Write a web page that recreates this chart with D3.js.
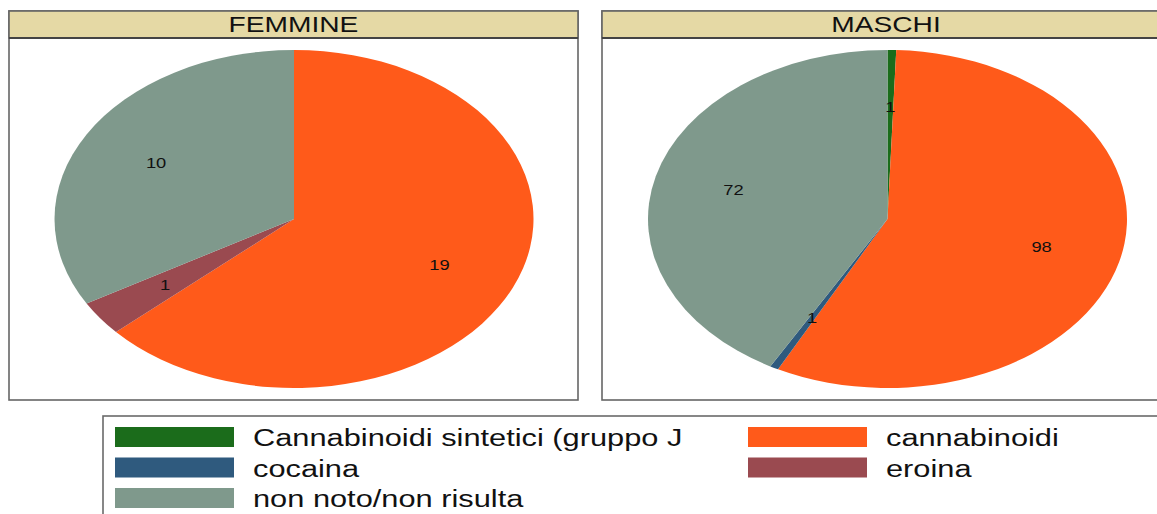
<body style="margin:0">
    <script src="https://d3js.org/d3.v7.min.js"></script>

    <style>
      * {
        font-family: "Liberation Sans", Arial, sans-serif;
      }
    </style>

    <script>
        // data
        var categories = ["Cannabinoidi sintetici (gruppo J", "cannabinoidi", "cocaina", "eroina", "non noto/non risulta"];
        var colors = ["#1b6c1b", "#ff5a1a", "#2f5a7e", "#9a4a50", "#7f998c"];
        var panels = ["FEMMINE", "MASCHI"];
        var femmine = [0, 19, 0, 1, 10];
        var maschi = [1, 98, 1, 0, 72];
        var seriesValues = [femmine, maschi];

        var width = 1157,
            height = 514,
            sx = 1.31; // the picture is stretched sideways

        var svg = d3.select("body").append("svg")
            .attr("width", width)
            .attr("height", height)
            .style("display", "block");

        // panel boxes
        var panelBox = [
            {x0: 9, x1: 578, cx: 294},
            {x0: 602, x1: 1170, cx: 887.5}
        ];
        var topY = 11, headH = 27, bottomY = 400;

        var ry = 169, rx = 239.5, cy = 219;

        var pie = d3.pie().sort(null).value(d => d);
        var arc = d3.arc().innerRadius(0).outerRadius(ry);
        var labelArc = d3.arc().innerRadius(ry * 0.665).outerRadius(ry * 0.665);

        panels.forEach(function(name, i) {
            var b = panelBox[i];
            var g = svg.append("g");

            g.append("rect")
                .attr("x", b.x0).attr("y", topY)
                .attr("width", b.x1 - b.x0).attr("height", bottomY - topY)
                .attr("fill", "white")
                .attr("stroke", "#666").attr("stroke-width", 1.6);

            g.append("rect")
                .attr("x", b.x0).attr("y", topY)
                .attr("width", b.x1 - b.x0).attr("height", headH)
                .attr("fill", "#e5d9a5")
                .attr("stroke", "#666").attr("stroke-width", 1.6);
            g.append("line")
                .attr("x1", b.x0).attr("x2", b.x1)
                .attr("y1", topY + headH).attr("y2", topY + headH)
                .attr("stroke", "#444").attr("stroke-width", 2);

            g.append("text")
                .attr("transform", "translate(" + ((b.x0 + b.x1) / 2) + "," + (topY + 20.5) + ") scale(" + sx + ",1)")
                .attr("text-anchor", "middle")
                .style("font-size", "21.5px")
                .attr("fill", "#111")
                .text(name);

            var cx = b.cx;

            var pg = g.append("g")
                .attr("transform", "translate(" + cx + "," + cy + ") scale(" + (rx / ry) + ",1)");

            var slices = pie(seriesValues[i]);
            pg.selectAll("path")
                .data(slices)
                .enter()
                .append("path")
                .attr("d", arc)
                .attr("fill", (d, k) => colors[k]);

            g.selectAll("text.lab")
                .data(slices.filter(d => d.value > 0))
                .enter()
                .append("text")
                .attr("class", "lab")
                .attr("transform", function(d) {
                    var c = labelArc.centroid(d);
                    return "translate(" + (cx + c[0] * rx / ry) + "," + (cy + c[1]) + ") scale(" + sx + ",1)";
                })
                .attr("text-anchor", "middle")
                .attr("dy", "0.35em")
                .style("font-size", "14px")
                .attr("fill", "#111")
                .text(d => d.value);
        });

        // legend
        var legend = svg.append("g");
        legend.append("rect")
            .attr("x", 103).attr("y", 416)
            .attr("width", 1070).attr("height", 110)
            .attr("fill", "white")
            .attr("stroke", "#6a6a6a").attr("stroke-width", 1.6);

        var colX = [115, 748], rowY = [427, 457.5, 488];
        categories.forEach(function(c, k) {
            var col = k % 2, row = Math.floor(k / 2);
            legend.append("rect")
                .attr("x", colX[col]).attr("y", rowY[row])
                .attr("width", 119).attr("height", 20)
                .attr("fill", colors[k]);
            legend.append("text")
                .attr("transform", "translate(" + (colX[col] + 138) + "," + (rowY[row] + 19) + ") scale(" + sx + ",1)")
                .style("font-size", "23.5px")
                .attr("fill", "#111")
                .text(c);
        });
    </script>
  </body>
